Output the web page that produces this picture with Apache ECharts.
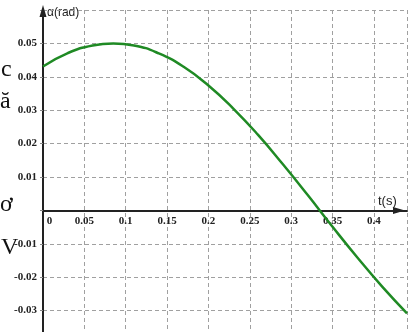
<!DOCTYPE html>
<html>
<head>
<meta charset="utf-8">
<script src="https://cdn.jsdelivr.net/npm/echarts@6/dist/echarts.min.js"></script>
<style>
  html, body { margin: 0; padding: 0; background: #fff; }
  #echarts { width: 409px; height: 332px; }
</style>
</head>
<body>
<div id="echarts"></div>
<script>
// values
var times = [0, 0.03, 0.06, 0.085, 0.11, 0.14, 0.17, 0.2, 0.23, 0.26, 0.29, 0.32, 0.35, 0.38, 0.41, 0.44];
var alpha = [0.0431, 0.0471, 0.0494, 0.0500, 0.0494, 0.0470, 0.0430, 0.0374, 0.0305, 0.0226, 0.0138, 0.0046, -0.0049, -0.0141, -0.0228, -0.0308];
var xTitle = 't(s)';
var yTitle = 'α(rad)';
var strayGlyphs = ['c', 'ă', 'ơ', 'V'];

var points = times.map(function (t, i) { return [t, alpha[i]]; });

var myChart = echarts.init(document.getElementById('echarts'));
var labelFont = {
    color: '#222',
    fontFamily: '"Liberation Serif", serif',
    fontWeight: 'bold',
    fontSize: 11
};
var gridDash = {
    show: true,
    lineStyle: { color: '#a0a0a0', type: [4, 3], width: 1 }
};
// grid: 0.06 at top=10, 33.4px per 0.01, so zero sits 133.6px above the grid bottom
var gridTop = 10, gridHeight = 334;

option = {
    animation: false,
    grid: { left: 43, right: 2, top: gridTop, height: gridHeight, outerBoundsMode: 'none', containLabel: false },
    xAxis: {
        type: 'value',
        min: 0,
        max: 0.44,
        interval: 0.05,
        offset: -133.6,
        axisLine: {
            onZero: false,
            symbol: ['none', 'triangle'],
            symbolSize: [7, 12],
            symbolOffset: [0, -8],
            lineStyle: { color: '#222', width: 2 }
        },
        axisTick: { show: false },
        splitLine: gridDash,
        axisLabel: Object.assign({
            margin: 5,
            formatter: function (v) {
                if (v === 0) return '{z|0}';
                if (v > 0.42) return '';
                return String(+v.toFixed(2));
            },
            rich: { z: Object.assign({ padding: [0, 0, 0, 13] }, labelFont) }
        }, labelFont)
    },
    yAxis: {
        type: 'value',
        min: -0.04,
        max: 0.06,
        interval: 0.01,
        axisLine: {
            show: true,
            onZero: false,
            symbol: ['none', 'triangle'],
            symbolSize: [7, 12],
            symbolOffset: [0, -1],
            lineStyle: { color: '#222', width: 2 }
        },
        axisTick: { show: true, length: 3, lineStyle: { color: '#888' } },
        splitLine: gridDash,
        axisLabel: Object.assign({
            margin: 6,
            formatter: function (v) {
                if (Math.abs(v) < 1e-9 || v > 0.055) return '';
                return v.toFixed(2);
            }
        }, labelFont)
    },
    graphic: [
        { type: 'text', left: 47, top: 7, style: { text: yTitle, font: '12px "Liberation Sans", Arial, sans-serif', fill: '#222' } },
        { type: 'text', left: 378, top: 195, style: { text: xTitle, font: '13px "Liberation Sans", Arial, sans-serif', fill: '#222' } },
        { type: 'text', left: 1, top: 58, style: { text: strayGlyphs[0], font: '24px "Liberation Serif", serif', fill: '#111' } },
        { type: 'text', left: 0, top: 90, style: { text: strayGlyphs[1], font: '24px "Liberation Serif", serif', fill: '#111' } },
        { type: 'text', left: 0, top: 193, style: { text: strayGlyphs[2], font: '24px "Liberation Serif", serif', fill: '#111' } },
        { type: 'text', left: 1, top: 236, style: { text: strayGlyphs[3], font: '24px "Liberation Serif", serif', fill: '#111' } }
    ],
    series: [
        {
            name: yTitle,
            type: 'line',
            data: points,
            smooth: true,
            showSymbol: false,
            lineStyle: { color: '#1f8a24', width: 2.5 }
        }
    ]
};
myChart.setOption(option);
</script>
</body>
</html>
